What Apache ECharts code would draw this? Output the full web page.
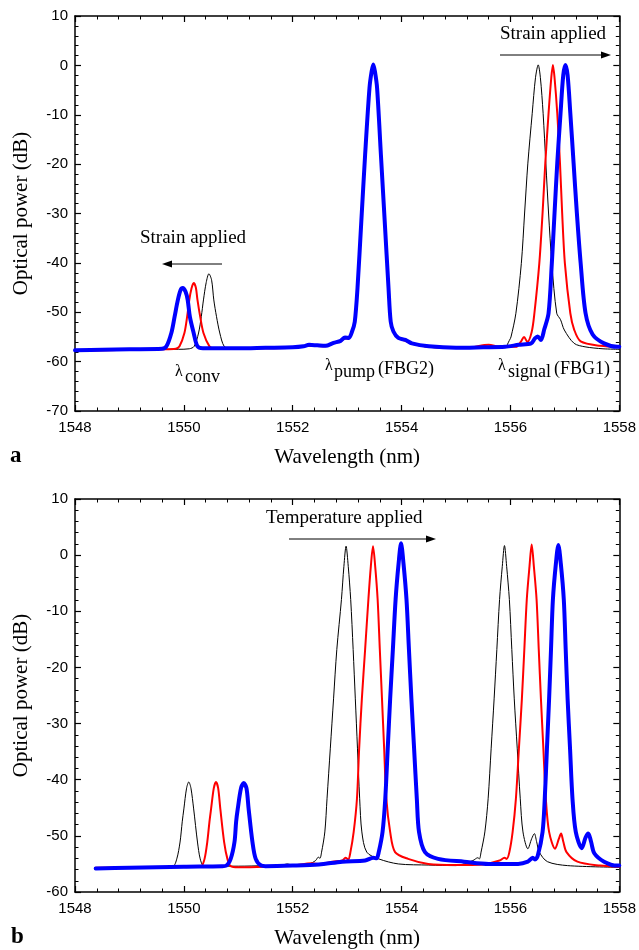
<!DOCTYPE html>
<html>
<head>
<meta charset="utf-8">
<script src="https://cdn.jsdelivr.net/npm/echarts@6/dist/echarts.min.js"></script>
<style>
html,body{margin:0;padding:0;background:#fff;}
#chart{width:639px;height:950px;}
</style>
</head>
<body>
<div id="chart"></div>
<script>
// ---------- Data (wavelength nm, optical power dB) ----------
// Panel a: strain applied
const aBlack = [[1548.0,-57.8],[1548.5,-57.7],[1549.0,-57.6],[1549.5,-57.5],[1549.9,-57.5],[1550.1,-57.4],[1550.19,-56.9],[1550.27,-54.2],[1550.32,-50.9],[1550.36,-47.5],[1550.41,-44],[1550.46,-42.2],[1550.51,-43.5],[1550.55,-47.5],[1550.6,-50.9],[1550.66,-54.2],[1550.74,-56.9],[1550.85,-57.3],[1551.5,-57.3],[1552.0,-57.2],[1552.25,-56.9],[1552.4,-56.8],[1552.6,-56.9],[1552.75,-56.3],[1552.88,-55.9],[1552.96,-55.3],[1553.03,-55.3],[1553.09,-53.9],[1553.14,-51.9],[1553.19,-45.1],[1553.26,-31.6],[1553.33,-18.1],[1553.41,-4.6],[1553.45,-1.2],[1553.48,0.0],[1553.51,-1.2],[1553.55,-4.6],[1553.62,-18.1],[1553.69,-31.6],[1553.76,-45.1],[1553.8,-51.9],[1553.85,-53.9],[1553.94,-55.2],[1554.07,-55.8],[1554.19,-56.4],[1554.5,-57.1],[1555.0,-57.3],[1555.5,-57.1],[1555.9,-57.0],[1555.98,-55.7],[1556.01,-55.0],[1556.1,-50.2],[1556.2,-40.1],[1556.26,-29.9],[1556.32,-19.8],[1556.4,-9.7],[1556.46,-2.5],[1556.51,0.1],[1556.55,-2.5],[1556.6,-9.7],[1556.65,-19.8],[1556.7,-29.9],[1556.76,-40.1],[1556.85,-50.2],[1556.92,-51.5],[1556.99,-53.6],[1557.17,-56.3],[1557.37,-57.0],[1557.7,-57.4],[1558.0,-57.5]];
const aRed = [[1548.0,-57.8],[1549.0,-57.6],[1549.6,-57.5],[1549.85,-57.4],[1549.92,-56.9],[1550.01,-54.2],[1550.06,-50.9],[1550.1,-47.5],[1550.14,-45.2],[1550.18,-44.1],[1550.22,-45],[1550.25,-47.5],[1550.3,-50.9],[1550.36,-54.2],[1550.47,-56.9],[1550.55,-57.3],[1551.5,-57.3],[1552.0,-57.2],[1552.3,-56.8],[1552.6,-56.9],[1552.75,-56.3],[1552.88,-55.9],[1552.96,-55.3],[1553.03,-55.3],[1553.09,-53.9],[1553.14,-51.9],[1553.19,-45.1],[1553.26,-31.6],[1553.33,-18.1],[1553.41,-4.6],[1553.45,-1.2],[1553.48,0.0],[1553.51,-1.2],[1553.55,-4.6],[1553.62,-18.1],[1553.69,-31.6],[1553.76,-45.1],[1553.8,-51.9],[1553.85,-53.9],[1553.94,-55.2],[1554.07,-55.8],[1554.19,-56.4],[1554.5,-57.0],[1555.2,-57.2],[1555.6,-56.6],[1555.8,-57.0],[1556.1,-57.0],[1556.19,-56],[1556.25,-55],[1556.31,-56],[1556.39,-54],[1556.44,-50.2],[1556.53,-40.1],[1556.59,-29.9],[1556.64,-19.8],[1556.7,-9.7],[1556.75,-2.5],[1556.78,0.1],[1556.81,-2.5],[1556.86,-9.7],[1556.91,-19.8],[1556.95,-29.9],[1557.0,-40.1],[1557.1,-50.2],[1557.17,-53.5],[1557.29,-55.9],[1557.65,-56.8],[1558.0,-57.0]];
const aBlue = [[1548.0,-57.7],[1548.5,-57.6],[1549.0,-57.5],[1549.6,-57.4],[1549.68,-56.9],[1549.77,-54.2],[1549.83,-50.9],[1549.89,-47.5],[1549.94,-45.5],[1549.98,-45.1],[1550.03,-45.8],[1550.07,-47.5],[1550.11,-50.9],[1550.18,-54.2],[1550.25,-56.9],[1550.35,-57.3],[1551.0,-57.3],[1551.5,-57.2],[1552.0,-57.1],[1552.2,-56.9],[1552.3,-56.6],[1552.45,-56.7],[1552.6,-56.8],[1552.75,-56.2],[1552.88,-55.8],[1552.96,-55.1],[1553.03,-55.2],[1553.09,-53.9],[1553.14,-51.9],[1553.19,-45.1],[1553.26,-31.6],[1553.33,-18.1],[1553.41,-4.6],[1553.45,-1.2],[1553.48,0.2],[1553.51,-1.2],[1553.55,-4.6],[1553.62,-18.1],[1553.69,-31.6],[1553.76,-45.1],[1553.8,-51.9],[1553.85,-53.9],[1553.94,-55.2],[1554.07,-55.6],[1554.19,-56.3],[1554.5,-56.9],[1555.0,-57.2],[1555.5,-57.1],[1555.9,-57.0],[1556.15,-56.6],[1556.38,-56.3],[1556.45,-55.3],[1556.5,-54.9],[1556.56,-55.6],[1556.62,-53.5],[1556.7,-50.2],[1556.76,-40.1],[1556.81,-29.9],[1556.86,-19.8],[1556.92,-9.7],[1556.97,-2.0],[1557.01,0.1],[1557.05,-2.0],[1557.1,-9.7],[1557.16,-19.8],[1557.22,-29.9],[1557.29,-40.1],[1557.38,-50.2],[1557.51,-54.5],[1557.72,-56.3],[1557.96,-57.0],[1558.0,-57.0]];

// Panel b: temperature applied
const bBlack = [[1548.38,-55.7],[1549.0,-55.6],[1549.5,-55.5],[1549.8,-55.4],[1549.87,-54.1],[1549.93,-51.1],[1549.97,-47.5],[1550.0,-45.2],[1550.05,-41.5],[1550.09,-40.4],[1550.13,-41.5],[1550.18,-45.2],[1550.25,-51.1],[1550.3,-54.1],[1550.36,-55.3],[1550.5,-55.4],[1551.0,-55.4],[1551.5,-55.3],[1551.8,-55.2],[1551.9,-55.0],[1552.0,-55.2],[1552.3,-55.0],[1552.42,-54.4],[1552.47,-53.8],[1552.5,-54.0],[1552.53,-52.9],[1552.59,-49.3],[1552.63,-43.4],[1552.69,-34.5],[1552.75,-25.6],[1552.81,-16.8],[1552.895,-7.9],[1552.94,-2],[1552.98,1.6],[1553.02,-2],[1553.065,-7.9],[1553.11,-16.8],[1553.15,-25.6],[1553.19,-34.5],[1553.23,-43.4],[1553.27,-49.3],[1553.36,-52.9],[1553.58,-54.1],[1553.94,-55.0],[1554.5,-55.2],[1555.0,-55.3],[1555.31,-54.4],[1555.4,-53.9],[1555.43,-54.1],[1555.46,-52.9],[1555.53,-49.3],[1555.59,-43.4],[1555.645,-34.5],[1555.7,-25.6],[1555.75,-16.8],[1555.8,-7.9],[1555.85,-2],[1555.89,1.7],[1555.93,-2],[1555.98,-7.9],[1556.025,-16.8],[1556.07,-25.6],[1556.125,-34.5],[1556.18,-43.4],[1556.23,-49.3],[1556.32,-52.3],[1556.39,-50.5],[1556.44,-49.6],[1556.48,-51],[1556.53,-52.9],[1556.68,-54.6],[1557.05,-55.3],[1558.0,-55.6]];
const bRed = [[1548.38,-55.7],[1549.5,-55.6],[1550.2,-55.5],[1550.32,-55.4],[1550.38,-54.1],[1550.43,-51.1],[1550.47,-47.5],[1550.5,-45.2],[1550.55,-41.5],[1550.59,-40.4],[1550.63,-41.5],[1550.67,-45.2],[1550.74,-51.1],[1550.8,-54.1],[1550.86,-55.4],[1551.0,-55.6],[1551.5,-55.5],[1552.0,-55.3],[1552.35,-54.9],[1552.5,-55.0],[1552.73,-54.6],[1552.91,-54.4],[1552.97,-53.9],[1553.02,-54.2],[1553.06,-52.9],[1553.12,-49.3],[1553.18,-43.4],[1553.22,-34.5],[1553.27,-25.6],[1553.33,-16.8],[1553.39,-7.9],[1553.435,-2],[1553.475,1.6],[1553.515,-2],[1553.56,-7.9],[1553.6,-16.8],[1553.64,-25.6],[1553.68,-34.5],[1553.72,-43.4],[1553.79,-49.3],[1553.88,-52.9],[1554.12,-54.1],[1554.49,-55.0],[1555.0,-55.2],[1555.5,-55.1],[1555.8,-54.4],[1555.89,-53.9],[1555.93,-54.1],[1555.98,-52.9],[1556.04,-49.3],[1556.1,-43.4],[1556.155,-34.5],[1556.21,-25.6],[1556.255,-16.8],[1556.3,-7.9],[1556.35,-2],[1556.39,1.9],[1556.43,-2],[1556.48,-7.9],[1556.52,-16.8],[1556.56,-25.6],[1556.605,-34.5],[1556.65,-43.4],[1556.71,-49.3],[1556.82,-52.3],[1556.89,-50.5],[1556.93,-49.6],[1556.97,-51],[1557.03,-52.9],[1557.23,-54.6],[1557.65,-55.3],[1558.0,-55.5]];
const bBlue = [[1548.38,-55.8],[1549.0,-55.7],[1550.0,-55.5],[1550.7,-55.4],[1550.78,-55.3],[1550.86,-54.1],[1550.93,-51.1],[1550.96,-47.5],[1550.99,-45.2],[1551.05,-41.5],[1551.1,-40.6],[1551.15,-41.5],[1551.19,-45.2],[1551.26,-51.1],[1551.32,-54.1],[1551.42,-55.3],[1551.5,-55.4],[1552.0,-55.3],[1552.48,-55.1],[1552.91,-54.6],[1553.33,-54.4],[1553.48,-53.9],[1553.54,-54.0],[1553.58,-52.9],[1553.65,-49.3],[1553.7,-43.4],[1553.745,-34.5],[1553.79,-25.6],[1553.84,-16.8],[1553.89,-7.9],[1553.945,-1.5],[1553.99,2.1],[1554.035,-1.5],[1554.09,-7.9],[1554.135,-16.8],[1554.18,-25.6],[1554.23,-34.5],[1554.28,-43.4],[1554.32,-49.3],[1554.43,-52.9],[1554.67,-54.1],[1555.15,-54.6],[1555.6,-55.0],[1556.14,-55.0],[1556.32,-54.6],[1556.41,-53.9],[1556.45,-54.2],[1556.5,-53.6],[1556.59,-49.3],[1556.63,-43.4],[1556.67,-34.5],[1556.71,-25.6],[1556.745,-16.8],[1556.78,-7.9],[1556.835,-1.5],[1556.88,1.8],[1556.925,-1.5],[1556.98,-7.9],[1557.015,-16.8],[1557.05,-25.6],[1557.095,-34.5],[1557.14,-43.4],[1557.2,-49.3],[1557.31,-52.2],[1557.38,-50.3],[1557.43,-49.6],[1557.48,-51],[1557.54,-53.1],[1557.72,-54.6],[1557.96,-55.3],[1558.0,-55.3]];

// Axis ranges / tick labels
const xRange = {min: 1548, max: 1558, step: 2};
const yRangeA = {min: -70, max: 10, step: 10};
const yRangeB = {min: -60, max: 10, step: 10};

const SERIF = '"Liberation Serif","Times New Roman",serif';
const SANS = '"Liberation Sans",Arial,sans-serif';

function xAx(grid, pos, labels, name) {
  return {
    type: 'value', gridIndex: grid, position: pos,
    min: xRange.min, max: xRange.max, interval: xRange.step,
    name: name || '', nameLocation: 'middle', nameGap: 36,
    nameTextStyle: {fontFamily: SERIF, fontSize: 21, color: '#000'},
    axisLine: {show: true, onZero: false, lineStyle: {color: '#000', width: 1.5}},
    axisTick: {show: true, inside: true, length: 6, lineStyle: {color: '#000', width: 1.2}},
    minorTick: {show: true, splitNumber: 5, length: 3.5, lineStyle: {color: '#000', width: 1}},
    axisLabel: {show: labels, color: '#000', fontFamily: SANS, fontSize: 15, margin: 9,
      showMinLabel: true, showMaxLabel: true, formatter: v => String(v)},
    splitLine: {show: false}, minorSplitLine: {show: false}
  };
}
function yAx(grid, pos, r, labels, name) {
  return {
    type: 'value', gridIndex: grid, position: pos,
    min: r.min, max: r.max, interval: r.step,
    name: name || '', nameLocation: 'middle', nameGap: 43,
    nameTextStyle: {fontFamily: SERIF, fontSize: 21, color: '#000'},
    axisLine: {show: true, onZero: false, lineStyle: {color: '#000', width: 1.5}},
    axisTick: {show: true, inside: true, length: 6, lineStyle: {color: '#000', width: 1.2}},
    minorTick: {show: true, splitNumber: 5, length: 3.5, lineStyle: {color: '#000', width: 1}},
    axisLabel: {show: labels, color: '#000', fontFamily: SANS, fontSize: 15, margin: 7,
      showMinLabel: true, showMaxLabel: true, formatter: v => String(v)},
    splitLine: {show: false}, minorSplitLine: {show: false}
  };
}
function ln(data, xi, yi, color, w) {
  return {type: 'line', xAxisIndex: xi, yAxisIndex: yi, data: data, showSymbol: false, symbol: 'none',
    smooth: 0.3, lineStyle: {color: color, width: w, join: 'round', cap: 'round'}, itemStyle: {color: color}, z: 2};
}
function txt(x, y, t, size, weight) {
  return {type: 'text', x: x, y: y, silent: true,
    style: {text: t, fill: '#000', fontFamily: SERIF, fontSize: size, fontWeight: weight || 'normal',
      align: 'left', verticalAlign: 'middle'}};
}
function arrow(x1, x2, y) {
  const dir = x2 > x1 ? 1 : -1;
  const hx = x2 - dir * 10;
  return [
    {type: 'line', silent: true, shape: {x1: x1, y1: y, x2: hx, y2: y}, style: {stroke: '#000', lineWidth: 1}},
    {type: 'polygon', silent: true, shape: {points: [[x2, y], [hx, y - 3.5], [hx, y + 3.5]]}, style: {fill: '#000'}}
  ];
}

const chart = echarts.init(document.getElementById('chart'), null, {renderer: 'canvas'});
chart.setOption({
  animation: false,
  backgroundColor: '#fff',
  grid: [
    {left: 75, top: 16, width: 547, height: 395, containLabel: false},
    {left: 75, top: 499, width: 547, height: 394, containLabel: false}
  ],
  xAxis: [
    xAx(0, 'bottom', true, 'Wavelength (nm)'), xAx(0, 'top', false),
    xAx(1, 'bottom', true, 'Wavelength (nm)'), xAx(1, 'top', false)
  ],
  yAxis: [
    yAx(0, 'left', yRangeA, true, 'Optical power (dB)'), yAx(0, 'right', yRangeA, false),
    yAx(1, 'left', yRangeB, true, 'Optical power (dB)'), yAx(1, 'right', yRangeB, false)
  ],
  series: [
    ln(aBlack, 0, 0, '#000000', 1),
    ln(aRed, 0, 0, '#ff0000', 2),
    ln(aBlue, 0, 0, '#0000ff', 4),
    ln(bBlack, 2, 2, '#000000', 1),
    ln(bRed, 2, 2, '#ff0000', 2),
    ln(bBlue, 2, 2, '#0000ff', 4)
  ],
  graphic: [
    txt(140, 238, 'Strain applied', 19),
    ...arrow(222, 162, 264),
    txt(500, 34, 'Strain applied', 19),
    ...arrow(500, 611, 55),
    txt(175, 372, 'λ', 16),
    txt(185, 377, 'conv', 18),
    txt(325, 366, 'λ', 16),
    txt(334, 372, 'pump', 18),
    txt(378, 369, '(FBG2)', 18),
    txt(498, 366, 'λ', 16),
    txt(508, 372, 'signal', 18),
    txt(554, 369, '(FBG1)', 18),
    txt(266, 518, 'Temperature applied', 19),
    ...arrow(289, 436, 539),
    txt(10, 456, 'a', 23, 'bold'),
    txt(11, 937, 'b', 23, 'bold')
  ]
});
</script>
</body>
</html>
